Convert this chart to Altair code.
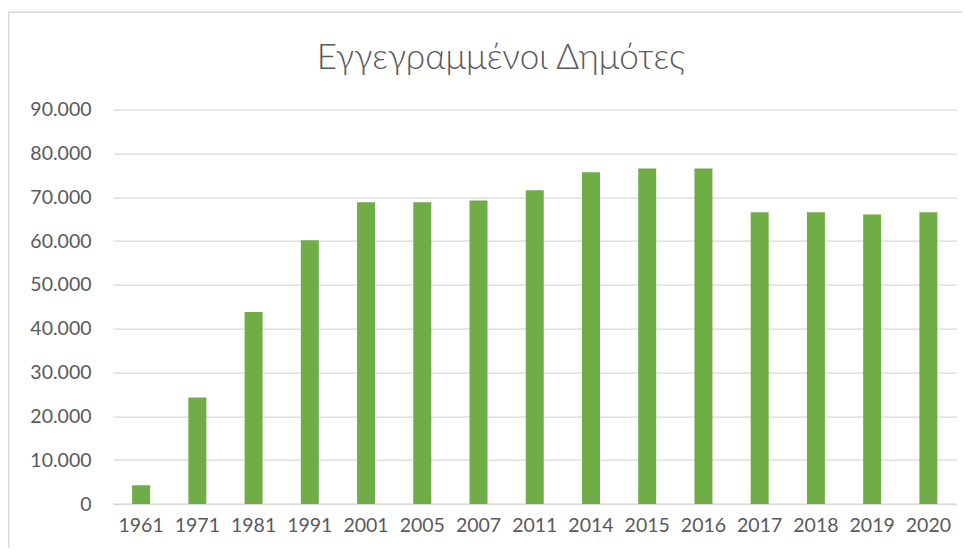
import altair as alt
import pandas as pd

years = ["1961", "1971", "1981", "1991", "2001", "2005", "2007", "2011",
         "2014", "2015", "2016", "2017", "2018", "2019", "2020"]
values = [4300, 24300, 43800, 60200, 68900, 68900, 69300, 71600,
          75700, 76600, 76600, 66600, 66600, 66100, 66600]
title_text = "Εγγεγραμμένοι Δημότες"

df = pd.DataFrame({"year": years, "value": values})

W = 843.5
H = 394.3
FONT = "Lato"
GREY = "#595959"

bars = alt.Chart(df).mark_bar(color="#70AD47").encode(
    x=alt.X("year:N", sort=years,
            scale=alt.Scale(paddingInner=0.68, paddingOuter=0.34),
            axis=alt.Axis(title=None, labelAngle=0, ticks=False,
                          domainColor="#D9D9D9", domainWidth=1.3,
                          labelPadding=12, labelFontSize=19.5,
                          labelColor=GREY, labelFont=FONT, grid=False)),
    y=alt.Y("value:Q", scale=alt.Scale(domain=[0, 90000], nice=False),
            axis=alt.Axis(title=None, values=list(range(0, 90001, 10000)),
                          labelExpr="replace(format(datum.value, ','), ',', '.')",
                          ticks=False, domain=False, gridColor="#D9D9D9",
                          gridWidth=1.3, labelPadding=22, labelFontSize=19.5,
                          labelColor=GREY, labelFont=FONT)),
)

one = pd.DataFrame({"t": [title_text]})

border = alt.Chart(one).mark_rect(
    fill=None, stroke="#D9D9D9", strokeWidth=1.5, clip=False
).encode(
    x=alt.value(-104.3), x2=alt.value(W + 80),
    y=alt.value(-97.5), y2=alt.value(H + 80),
)

title = alt.Chart(one).mark_text(
    font=FONT, fontSize=35, fontWeight=300, color=GREY,
    align="center", baseline="middle", clip=False
).encode(
    text="t:N",
    x=alt.value(W / 2 - 34), y=alt.value(-51.5),
)

chart = alt.layer(border, bars, title).properties(
    width=W, height=H,
    autosize=alt.AutoSizeParams(type="none"),
    padding={"left": 105, "top": 101.7, "right": 5, "bottom": 44},
).configure_view(stroke=None)

chart.save("out.html", embed_options={"renderer": "svg", "actions": False})
